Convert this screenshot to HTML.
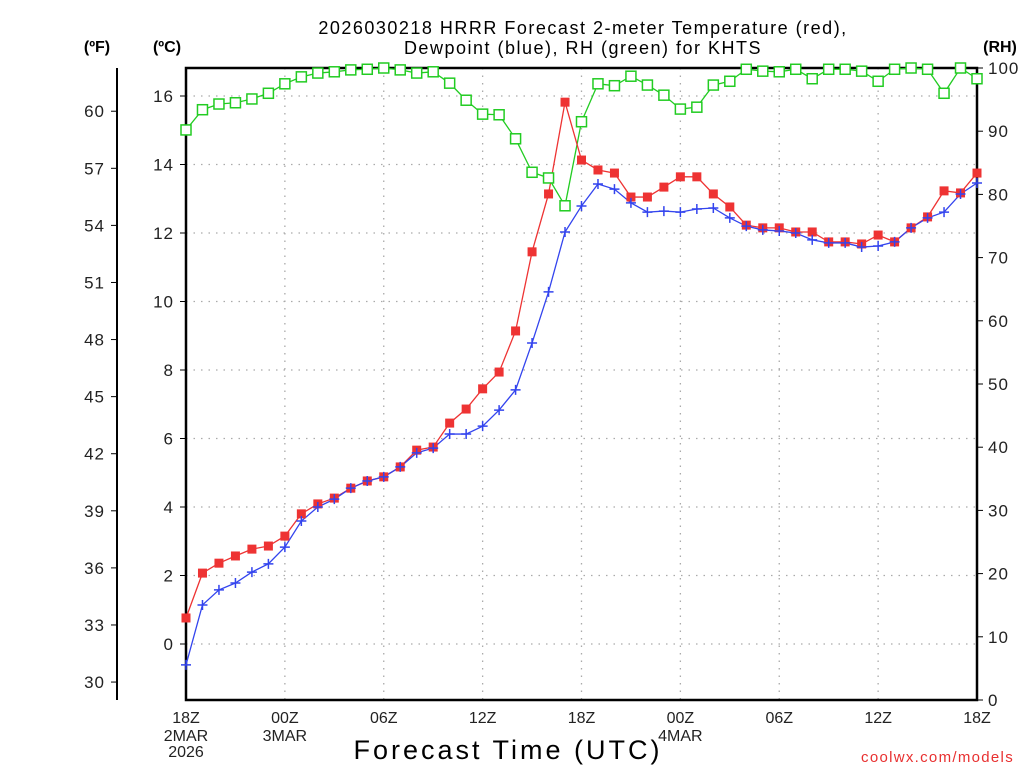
<!DOCTYPE html>
<html><head><meta charset="utf-8"><style>
body{margin:0;background:#fff;}
svg{display:block;font-family:"Liberation Sans",sans-serif;}
</style></head><body>
<svg id="chart" width="1024" height="768" xmlns="http://www.w3.org/2000/svg">
<g id="grid"></g>
<g id="axes"></g>
<g id="series"></g>
<text x="583" y="34" font-size="18" text-anchor="middle" letter-spacing="1.5">2026030218 HRRR Forecast 2-meter Temperature (red),</text>
<text x="583" y="54" font-size="18" text-anchor="middle" letter-spacing="1.5">Dewpoint (blue), RH (green) for KHTS</text>
<text x="97" y="52" font-size="16" font-weight="bold" text-anchor="middle">(ºF)</text>
<text x="167" y="52" font-size="16" font-weight="bold" text-anchor="middle">(ºC)</text>
<text x="1000" y="52" font-size="16" font-weight="bold" text-anchor="middle">(RH)</text>
<text x="508" y="759" font-size="27" text-anchor="middle" letter-spacing="3">Forecast Time (UTC)</text>
<text x="1014" y="762" font-size="15" fill="#e83030" text-anchor="end" letter-spacing="1.3">coolwx.com/models</text>
</svg>
<script>
const hours = [0,1,2,3,4,5,6,7,8,9,10,11,12,13,14,15,16,17,18,19,20,21,22,23,24,25,26,27,28,29,30,31,32,33,34,35,36,37,38,39,40,41,42,43,44,45,46,47,48];
const tempC = [0.76,2.07,2.36,2.57,2.77,2.86,3.15,3.80,4.09,4.26,4.55,4.76,4.88,5.17,5.66,5.75,6.45,6.86,7.45,7.94,9.14,11.45,13.14,15.82,14.13,13.84,13.75,13.05,13.05,13.34,13.64,13.64,13.14,12.76,12.23,12.15,12.15,12.03,12.03,11.74,11.74,11.68,11.94,11.74,12.15,12.47,13.23,13.17,13.75];
const dewC = [-0.61,1.14,1.58,1.78,2.10,2.34,2.83,3.59,4.00,4.23,4.55,4.76,4.88,5.17,5.58,5.72,6.13,6.13,6.36,6.83,7.42,8.79,10.28,12.03,12.79,13.43,13.28,12.88,12.61,12.64,12.61,12.70,12.73,12.44,12.20,12.09,12.06,12.00,11.80,11.71,11.71,11.59,11.62,11.74,12.15,12.44,12.61,13.14,13.46];
const rh = [90.2,93.4,94.3,94.5,95.1,96.0,97.5,98.6,99.2,99.4,99.7,99.8,100,99.7,99.2,99.4,97.6,94.9,92.7,92.6,88.8,83.5,82.6,78.2,91.5,97.5,97.2,98.7,97.3,95.7,93.5,93.8,97.3,97.9,99.8,99.5,99.4,99.8,98.3,99.8,99.8,99.5,97.9,99.8,100,99.8,96.0,100,98.3];
const cTicks = [0,2,4,6,8,10,12,14,16];
const fTicks = [30,33,36,39,42,45,48,51,54,57,60];
const rhTicks = [0,10,20,30,40,50,60,70,80,90,100];
const xTickHours = [0,6,12,18,24,30,36,42,48];
const xTickLabels = ["18Z","00Z","06Z","12Z","18Z","00Z","06Z","12Z","18Z"];
const xTickDates = [["2MAR","2026"],["3MAR"],[],[],[],["4MAR"],[],[],[]];

const L=186,R=977,T=68,B=700;
const xS=h=>L+(R-L)*h/48;
const yC=c=>644-c*34.25;
const yF=f=>yC((f-32)*5/9);
const yR=r=>B-(B-T)*r/100;
const NS="http://www.w3.org/2000/svg";
function mk(tag,attrs,parent,txt){const e=document.createElementNS(NS,tag);for(const k in attrs)e.setAttribute(k,attrs[k]);if(txt!==undefined)e.textContent=txt;parent.appendChild(e);return e;}
const grid=document.getElementById('grid'),axes=document.getElementById('axes'),series=document.getElementById('series');
const dot={stroke:'#aaa','stroke-width':1.3,'stroke-dasharray':'1.5 6'};
cTicks.forEach(c=>{
  const g=mk('line',Object.assign({x1:L,x2:R,y1:yC(c),y2:yC(c)},dot),grid);
  
  
  const t=mk('line',{x1:L-6,x2:L,y1:yC(c),y2:yC(c),stroke:'#000','stroke-width':1},axes);
  
  
  const l=mk('text',{x:L-12,y:yC(c)+6,'font-size':17,'text-anchor':'end',fill:'#222','letter-spacing':1},axes,String(c));
  
  
});
xTickHours.forEach((h,i)=>{
  if(i>0&&i<8){const g=mk('line',Object.assign({x1:xS(h),x2:xS(h),y1:T,y2:B},dot),grid);
  
  }
  const l=mk('text',{x:xS(h),y:723,'font-size':16,'text-anchor':'middle',fill:'#222'},axes,xTickLabels[i]);
  
  
  xTickDates[i].forEach((d,j)=>{const e=mk('text',{x:xS(h),y:741+j*16,'font-size':16,'text-anchor':'middle',fill:'#222'},axes,d);
  
  });
});
const fl=mk('line',{x1:117,x2:117,y1:T,y2:B,stroke:'#000','stroke-width':2},axes);


fTicks.forEach(f=>{
  const t=mk('line',{x1:111,x2:117,y1:yF(f),y2:yF(f),stroke:'#000'},axes);
  
  
  const l=mk('text',{x:105,y:yF(f)+6,'font-size':17,'text-anchor':'end',fill:'#222','letter-spacing':1},axes,String(f));
  
  
});
rhTicks.forEach(r=>{
  const t=mk('line',{x1:R,x2:R+6,y1:yR(r),y2:yR(r),stroke:'#000'},axes);
  
  
  const l=mk('text',{x:R+11,y:yR(r)+6,'font-size':17,fill:'#222','letter-spacing':1},axes,String(r));
  
  
});
const fr=mk('rect',{x:L,y:T,width:R-L,height:B-T,fill:'none',stroke:'#000','stroke-width':2.5},axes);


function line(vals,yf,color,name){
  const p=mk('polyline',{points:vals.map((v,i)=>xS(hours[i])+','+yf(v)).join(' '),fill:'none',stroke:color,'stroke-width':1.3},series);
  
  
}
line(rh,yR,'#22cc22','rh-line');
line(tempC,yC,'#ee3333','temperature-line');
line(dewC,yC,'#3344ee','dewpoint-line');
rh.forEach((v,i)=>{const m=mk('rect',{x:xS(hours[i])-5,y:yR(v)-5,width:10,height:10,fill:'#fff',stroke:'#22cc22','stroke-width':1.5},series);
  
  });
tempC.forEach((v,i)=>{const m=mk('rect',{x:xS(hours[i])-4.5,y:yC(v)-4.5,width:9,height:9,fill:'#ee3333'},series);
  
  });
dewC.forEach((v,i)=>{const x=xS(hours[i]),y=yC(v);
  const m=mk('path',{d:`M${x-5},${y}H${x+5}M${x},${y-5}V${y+5}`,stroke:'#3344ee','stroke-width':1.5},series);
  
  });
</script>
</body></html>
